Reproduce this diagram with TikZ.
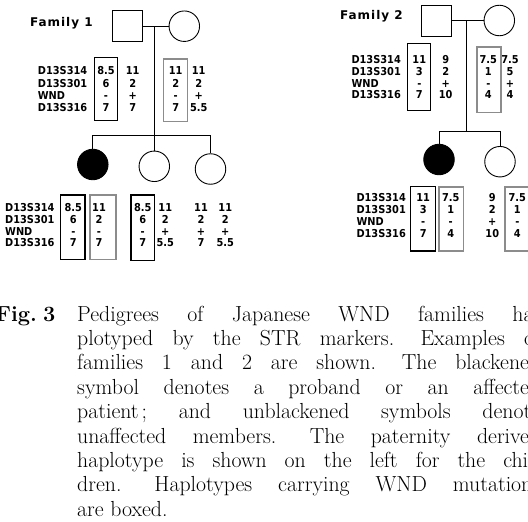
\documentclass[tikz,border=0pt]{standalone}
\usepackage{fontspec}
\newfontfamily\pedfont{DejaVu Sans Condensed}
\newfontfamily\famfont{DejaVu Sans}[LetterSpace=8]
\newcommand\hapcol[5]{\foreach \v [count=\i] in {#5}{\node[val] (#1-\i) at (#2,{#3+(\i-1)*#4}) {\v};}}
\newcommand\markercol[4]{\foreach \m [count=\i] in {D13S314,D13S301,WND,D13S316}{\node[mk] (#1-\i) at (#2,{#3+(\i-1)*#4}) {\m};}}
\newcommand\sentgap{\hspace{7pt}}
\begin{document}
\frenchspacing
\begin{tikzpicture}[x=1pt,y=-1pt,
  pedline/.style={line width=0.9pt},
  person/.style={draw, line width=0.9pt, inner sep=0pt},
  male/.style={person, rectangle, minimum width=30pt, minimum height=31pt},
  female/.style={person, circle, minimum size=30.5pt},
  affected/.style={fill=black},
  mk/.style={font=\pedfont\bfseries\fontsize{10.9}{12}\selectfont, inner sep=0pt, text height=7.9pt, text depth=0pt, anchor=west},
  val/.style={font=\pedfont\bfseries\fontsize{10.9}{12}\selectfont, inner sep=0pt, text height=7.9pt, text depth=0pt, anchor=center},
  fam/.style={font=\famfont\bfseries\fontsize{12}{14}\selectfont, inner sep=0pt, anchor=west},
  mutbox/.style={draw=black, line width=1.3pt},
  hapbox/.style={draw=black!45, line width=1.6pt},
  captext/.style={font=\fontsize{21.8}{24}\selectfont, inner sep=0pt, anchor=base west},
]
\useasboundingbox (0,0) rectangle (528,522);
\clip (0,0) rectangle (528,522);

% ---------------- Family 1 ----------------
\node[fam] (f1lab) at (30,23) {Family 1};
\node[male] (f1dad) at (127,26.2) {};
\node[female] (f1mom) at (184.3,26.2) {};
\coordinate (f1m) at (154.3,26.2);
\coordinate (f1s) at (154.3,135);
\coordinate (f1sl) at (92.8,135);
\coordinate (f1sr) at (210.5,135);
\node[female,affected] (f1c1) at (92.8,164.5) {};
\node[female] (f1c2) at (154.3,166.3) {};
\node[female] (f1c3) at (210.5,169) {};
\draw[pedline] (f1dad.east) -- (f1mom.west);
\draw[pedline] (f1m) -- (f1s);
\draw[pedline] (f1sl) -- (f1sr);
\draw[pedline] (f1sl) -- (f1c1.north);
\draw[pedline] (f1s) -- (f1c2.north);
\draw[pedline] (f1sr) -- (f1c3.north);

\markercol{f1pm}{37.7}{71}{12.1}
\hapcol{f1pa}{106}{71}{12.1}{8.5,6,-,7}
\hapcol{f1pb}{132.7}{71}{12.1}{11,2,+,7}
\hapcol{f1pc}{175.7}{71}{12.1}{11,2,-,7}
\hapcol{f1pd}{198.7}{71}{12.1}{11,2,+,5.5}
\draw[mutbox] (94.3,57.7) rectangle (117.7,120.7);
\draw[hapbox] (163.3,59) rectangle (187.3,121.3);

\markercol{f1cm}{5}{207.7}{11.7}
\hapcol{f1ca}{73.3}{207.7}{11.7}{8.5,6,-,7}
\hapcol{f1cb}{99}{207.7}{11.7}{11,2,-,7}
\hapcol{f1cc}{142.7}{207.7}{11.7}{8.5,6,-,7}
\hapcol{f1cd}{165.3}{207.7}{11.7}{11,2,+,5.5}
\hapcol{f1ce}{201}{207.7}{11.7}{11,2,+,7}
\hapcol{f1cf}{225.3}{207.7}{11.7}{11,2,+,5.5}
\draw[mutbox] (60.7,195) rectangle (85,259.3);
\draw[hapbox] (90,195) rectangle (115.7,259.3);
\draw[mutbox] (131,195) rectangle (154.3,260.5);

% ---------------- Family 2 ----------------
\node[fam] (f2lab) at (340,16.7) {Family 2};
\node[male] (f2dad) at (436.5,20.5) {};
\node[female] (f2mom) at (499.3,20.5) {};
\coordinate (f2m) at (466.7,20.5);
\coordinate (f2s) at (466.7,131);
\coordinate (f2sl) at (439,131);
\coordinate (f2sr) at (500,131);
\node[female,affected] (f2c1) at (439,159.5) {};
\node[female] (f2c2) at (500,161.7) {};
\draw[pedline] (f2dad.east) -- (f2mom.west);
\draw[pedline] (f2m) -- (f2s);
\draw[pedline] (f2sl) -- (f2sr);
\draw[pedline] (f2sl) -- (f2c1.north);
\draw[pedline] (f2sr) -- (f2c2.north);

\markercol{f2pm}{351.3}{59.3}{11.9}
\hapcol{f2pa}{419.3}{59.3}{11.9}{11,3,-,7}
\hapcol{f2pb}{445.7}{59.3}{11.9}{9,2,+,10}
\hapcol{f2pc}{488.3}{59.3}{11.9}{7.5,1,-,4}
\hapcol{f2pd}{510}{59.3}{11.9}{7.5,5,+,4}
\draw[mutbox] (407.3,43.3) rectangle (430.7,110.7);
\draw[hapbox] (476.7,47) rectangle (500.7,112.3);

\markercol{f2cm}{356.3}{197.3}{12}
\hapcol{f2ca}{423.2}{197.3}{12}{11,3,-,7}
\hapcol{f2cb}{450.7}{197.3}{12}{7.5,1,-,4}
\hapcol{f2cc}{492.3}{197.3}{12}{9,2,+,10}
\hapcol{f2cd}{517.3}{197.3}{12}{7.5,1,-,4}
\draw[mutbox] (410.7,186.7) rectangle (435.7,251);
\draw[hapbox] (439,186.7) rectangle (463.3,251);
\draw[hapbox] (504.7,186.7) rectangle (532,251);

% ---------------- Caption ----------------
\node[captext, anchor=base east] (figno) at (55.5,321) {\bfseries Fig.\kern6pt 3};
\node[captext] (l1) at (77,321)   {\makebox[463pt][s]{Pedigrees of Japanese WND families ha-}};
\node[captext] (l2) at (77,345.4) {\makebox[463pt][s]{plotyped by the STR markers.\sentgap{} Examples of}};
\node[captext] (l3) at (77,369.8) {\makebox[463pt][s]{families 1 and 2 are shown.\sentgap{} The blackened}};
\node[captext] (l4) at (77,394.2) {\makebox[463pt][s]{symbol denotes a proband or an affected}};
\node[captext] (l5) at (77,418.6) {\makebox[463pt][s]{patient\kern3pt; and unblackened symbols denote}};
\node[captext] (l6) at (77,443)   {\makebox[463pt][s]{unaffected members.\sentgap{} The paternity derived}};
\node[captext] (l7) at (77,467.4) {\makebox[463pt][s]{haplotype is shown on the left for the chil-}};
\node[captext] (l8) at (77,491.8) {\makebox[463pt][s]{dren.\sentgap{} Haplotypes carrying WND mutations}};
\node[captext] (l9) at (77,516.2) {are boxed.};
\end{tikzpicture}
\end{document}
